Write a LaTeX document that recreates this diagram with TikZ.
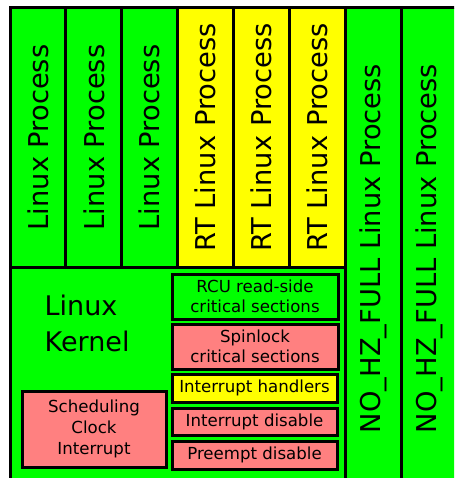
\documentclass[tikz,border=0pt]{standalone}
\usepackage{fontspec}
\setmainfont{DejaVu Sans}
\usepackage{xcolor}
\usepackage{tikz}
\definecolor{lingreen}{RGB}{0, 255, 0}
\definecolor{rtyellow}{RGB}{255, 255, 0}
\definecolor{lockpink}{RGB}{255, 128, 128}
\tikzset{
  procbox/.style={draw=black, line width=3pt, rotate=90, inner sep=0pt,
    minimum height=55.9pt, font=\fontsize{27.3}{32}\selectfont},
  kbox/.style={draw=black, line width=3pt, inner sep=0pt, align=center,
    font=\fontsize{16.6}{20}\selectfont},
}

\begin{document}
\begin{tikzpicture}[x=1pt, y=-1pt]
    % Page frame (right and bottom edges are cut off)
    \useasboundingbox (0,0) rectangle (454,478);
    \clip (0,0) rectangle (454,478);

    % Ordinary Linux processes
    \foreach \i/\x in {1/37.95, 2/93.85, 3/149.75}
        \node[procbox, fill=lingreen, minimum width=259pt] (proc\i) at (\x,137.5) {Linux Process};

    % Real-time processes
    \foreach \i/\x in {1/205.65, 2/261.55, 3/317.45}
        \node[procbox, fill=rtyellow, minimum width=259pt] (rt\i) at (\x,137.5) {RT Linux Process};

    % Kernel
    \node[draw=black, line width=3pt, fill=lingreen, minimum width=335.4pt, minimum height=222pt] (kernel) at (177.7,378) {};
    \node[inner sep=0pt, anchor=west, align=left, font=\fontsize{27}{36}\selectfont] (kernlabel) at (44.5,323) {Linux\\Kernel};

    % Kernel pieces
    \node[kbox, fill=lingreen, minimum width=166pt, minimum height=45pt] (rcu) at (255,296.5) {RCU read-side\\critical sections};
    \node[kbox, fill=lockpink, minimum width=166pt, minimum height=45pt] (spin) at (255,346.5) {Spinlock\\critical sections};
    \node[kbox, fill=rtyellow, minimum width=165pt, minimum height=28pt] (irqh) at (254.5,388) {Interrupt handlers};
    \node[kbox, fill=lockpink, minimum width=165pt, minimum height=27pt] (irqoff) at (254.5,421.5) {Interrupt disable};
    \node[kbox, fill=lockpink, minimum width=165pt, minimum height=28pt] (preoff) at (254.5,455) {Preempt disable};
    \node[kbox, fill=lockpink, minimum width=144pt, minimum height=76pt, font=\fontsize{16.6}{21}\selectfont] (sched) at (94,429) {Scheduling\\Clock\\Interrupt};

    % Adaptive-ticks processes (run past the bottom edge)
    \foreach \i/\x in {1/373.35, 2/429.25}
        \node[procbox, fill=lingreen, minimum width=481pt] (nohz\i) at (\x,248.5) {NO\_HZ\_FULL Linux Process};
\end{tikzpicture}
\end{document}
